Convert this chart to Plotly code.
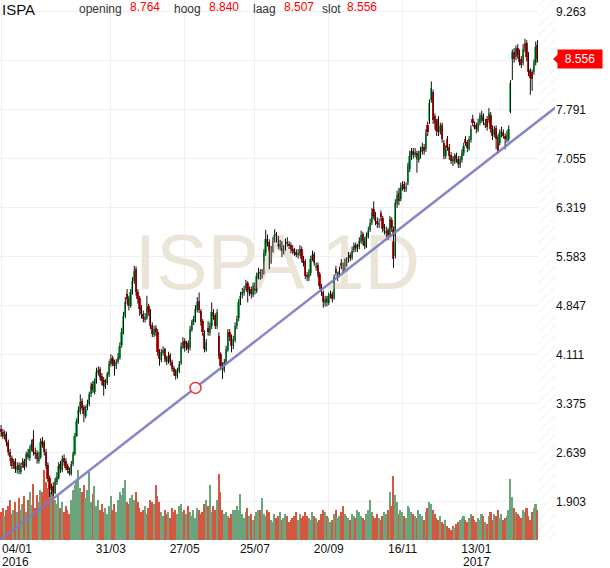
import plotly.graph_objects as go

# daily candles, 04/01/2016 .. early March 2017 (one value per trading day)
opens = [
    3.00, 2.96, 2.88, 2.93, 2.80, 2.66, 2.57, 2.44, 2.52, 2.38,
    2.46, 2.36, 2.46, 2.52, 2.44, 2.64, 2.56, 2.70, 2.85, 2.66,
    2.64, 2.52, 2.58, 2.82, 2.80, 2.66, 2.46, 2.27, 2.08, 2.15,
    2.04, 2.20, 2.27, 2.47, 2.38, 2.57, 2.52, 2.44, 2.36, 2.33,
    2.47, 2.62, 2.90, 3.12, 3.26, 3.42, 3.33, 3.20, 3.31, 3.37,
    3.52, 3.67, 3.56, 3.71, 3.84, 3.90, 3.79, 3.74, 3.63, 3.69,
    3.81, 3.97, 4.07, 3.99, 3.94, 4.01, 4.07, 4.26, 4.45, 4.70,
    5.02, 4.96, 4.85, 5.05, 5.22, 5.40, 5.06, 4.96, 4.82, 4.73,
    4.64, 4.67, 4.84, 4.76, 4.56, 4.41, 4.52, 4.46, 4.17, 4.03,
    4.14, 4.20, 4.06, 4.01, 4.11, 4.01, 3.91, 3.87, 3.79, 3.87,
    3.99, 4.24, 4.32, 4.21, 4.29, 4.21, 4.49, 4.61, 4.64, 4.79,
    4.92, 4.77, 4.62, 4.44, 4.19, 4.52, 4.44, 4.54, 4.76, 4.71,
    4.54, 4.40, 4.12, 3.97, 3.89, 4.01, 4.19, 4.46, 4.39, 4.24,
    4.34, 4.54, 4.66, 4.89, 5.01, 5.04, 5.11, 5.19, 5.04, 5.10,
    5.01, 5.16, 5.07, 5.29, 5.36, 5.29, 5.36, 5.64, 5.86, 5.81,
    5.51, 5.69, 5.83, 5.93, 5.86, 5.74, 5.79, 5.67, 5.71, 5.81,
    5.77, 5.76, 5.71, 5.67, 5.66, 5.61, 5.64, 5.71, 5.56, 5.52,
    5.31, 5.27, 5.34, 5.56, 5.63, 5.42, 5.46, 5.33, 5.14, 5.06,
    4.89, 4.96, 4.89, 5.00, 5.03, 4.96, 5.40, 5.26, 5.31, 5.50,
    5.46, 5.41, 5.49, 5.53, 5.61, 5.57, 5.69, 5.76, 5.71, 5.73,
    5.81, 5.93, 5.83, 5.74, 5.89, 5.99, 6.09, 6.30, 6.21, 6.13,
    6.07, 6.25, 6.17, 5.98, 5.94, 5.99, 5.91, 6.14, 6.00, 5.60,
    6.38, 6.55, 6.45, 6.62, 6.68, 6.60, 6.70, 6.90, 7.08, 7.18,
    7.12, 7.15, 7.04, 7.10, 7.16, 7.24, 7.20, 7.57, 7.62, 7.94,
    8.06, 7.70, 7.62, 7.66, 7.46, 7.57, 7.30, 7.10, 7.35, 7.24,
    7.12, 7.06, 7.01, 7.11, 7.06, 6.97, 7.04, 7.14, 7.36, 7.31,
    7.21, 7.34, 7.66, 7.57, 7.56, 7.49, 7.59, 7.64, 7.69, 7.56,
    7.66, 7.64, 7.72, 7.53, 7.42, 7.52, 7.38, 7.30, 7.42, 7.46,
    7.40, 7.34, 7.36, 7.76, 8.55, 8.66, 8.58, 8.72, 8.66, 8.56,
    8.50, 8.70, 8.80, 8.62, 8.39, 8.36, 8.36, 8.50, 8.764,
]
highs = [
    3.06, 3.00, 2.98, 2.96, 2.84, 2.70, 2.60, 2.55, 2.56, 2.50,
    2.50, 2.49, 2.56, 2.55, 2.66, 2.70, 2.75, 2.84, 2.98, 2.72,
    2.68, 2.66, 2.86, 2.88, 2.83, 2.70, 2.50, 2.30, 2.18, 2.20,
    2.26, 2.35, 2.50, 2.52, 2.60, 2.62, 2.56, 2.48, 2.42, 2.52,
    2.66, 2.94, 3.16, 3.34, 3.52, 3.46, 3.36, 3.35, 3.44, 3.56,
    3.70, 3.72, 3.76, 3.92, 3.94, 3.93, 3.84, 3.78, 3.75, 3.86,
    4.02, 4.12, 4.10, 4.04, 4.05, 4.14, 4.30, 4.52, 4.76, 4.98,
    5.10, 5.00, 5.10, 5.28, 5.45, 5.44, 5.10, 5.00, 4.86, 4.78,
    4.74, 5.00, 4.88, 4.80, 4.60, 4.55, 4.56, 4.50, 4.20, 4.20,
    4.24, 4.22, 4.10, 4.16, 4.14, 4.04, 3.95, 3.90, 3.92, 4.02,
    4.30, 4.38, 4.36, 4.32, 4.33, 4.55, 4.64, 4.70, 4.86, 4.98,
    5.05, 4.80, 4.65, 4.48, 4.35, 4.62, 4.60, 4.90, 4.80, 4.74,
    4.80, 4.45, 4.15, 4.00, 4.05, 4.25, 4.50, 4.50, 4.42, 4.40,
    4.60, 4.70, 4.95, 5.06, 5.12, 5.15, 5.24, 5.22, 5.14, 5.14,
    5.20, 5.20, 5.35, 5.42, 5.40, 5.40, 5.70, 5.99, 5.92, 5.85,
    5.75, 5.88, 6.00, 5.96, 5.90, 5.84, 5.82, 5.76, 5.86, 5.88,
    5.82, 5.80, 5.76, 5.72, 5.70, 5.70, 5.76, 5.74, 5.60, 5.55,
    5.36, 5.40, 5.60, 5.68, 5.66, 5.50, 5.50, 5.36, 5.18, 5.08,
    5.00, 5.00, 5.05, 5.08, 5.06, 5.32, 5.45, 5.36, 5.44, 5.55,
    5.50, 5.56, 5.58, 5.66, 5.65, 5.74, 5.80, 5.80, 5.78, 5.88,
    5.98, 5.96, 5.88, 5.95, 6.04, 6.16, 6.32, 6.42, 6.26, 6.18,
    6.16, 6.28, 6.20, 6.08, 6.04, 6.02, 6.20, 6.18, 6.04, 6.45,
    6.58, 6.62, 6.70, 6.72, 6.72, 6.70, 7.00, 7.18, 7.22, 7.22,
    7.22, 7.18, 7.18, 7.24, 7.30, 7.28, 7.50, 7.62, 7.95, 8.22,
    8.10, 7.74, 7.66, 7.70, 7.60, 7.60, 7.34, 7.26, 7.40, 7.28,
    7.16, 7.10, 7.14, 7.15, 7.10, 7.10, 7.20, 7.30, 7.40, 7.34,
    7.40, 7.56, 7.72, 7.62, 7.60, 7.66, 7.75, 7.78, 7.74, 7.66,
    7.70, 7.82, 7.76, 7.56, 7.55, 7.56, 7.42, 7.50, 7.54, 7.50,
    7.44, 7.48, 7.56, 8.24, 8.70, 8.72, 8.76, 8.78, 8.70, 8.60,
    8.78, 8.86, 8.84, 8.66, 8.42, 8.40, 8.55, 8.82, 8.840,
]
lows = [
    2.88, 2.85, 2.84, 2.74, 2.60, 2.52, 2.40, 2.40, 2.34, 2.33,
    2.32, 2.32, 2.42, 2.38, 2.42, 2.54, 2.52, 2.66, 2.60, 2.55,
    2.48, 2.48, 2.55, 2.72, 2.60, 2.40, 2.20, 1.98, 2.02, 1.99,
    2.02, 2.16, 2.24, 2.34, 2.35, 2.45, 2.38, 2.33, 2.30, 2.30,
    2.44, 2.60, 2.88, 3.08, 3.22, 3.28, 3.10, 3.16, 3.28, 3.34,
    3.48, 3.54, 3.52, 3.68, 3.80, 3.74, 3.66, 3.50, 3.60, 3.66,
    3.78, 3.94, 3.94, 3.80, 3.90, 3.98, 4.04, 4.22, 4.42, 4.66,
    4.88, 4.78, 4.82, 5.02, 5.18, 5.00, 4.88, 4.70, 4.66, 4.60,
    4.60, 4.64, 4.70, 4.50, 4.38, 4.38, 4.40, 4.10, 3.95, 4.00,
    4.10, 4.00, 3.96, 3.98, 3.95, 3.86, 3.80, 3.74, 3.76, 3.84,
    3.96, 4.20, 4.16, 4.18, 4.14, 4.18, 4.46, 4.56, 4.60, 4.75,
    4.74, 4.55, 4.40, 4.15, 4.16, 4.40, 4.40, 4.50, 4.64, 4.50,
    4.50, 4.05, 3.88, 3.75, 3.85, 3.98, 4.16, 4.32, 4.15, 4.20,
    4.30, 4.50, 4.62, 4.86, 4.96, 5.00, 5.08, 4.90, 5.00, 4.96,
    4.98, 5.02, 5.04, 5.25, 5.24, 5.26, 5.32, 5.60, 5.74, 5.40,
    5.48, 5.65, 5.80, 5.80, 5.70, 5.68, 5.58, 5.62, 5.68, 5.74,
    5.70, 5.64, 5.62, 5.60, 5.58, 5.56, 5.60, 5.50, 5.44, 5.25,
    5.22, 5.22, 5.30, 5.52, 5.45, 5.38, 5.28, 5.10, 5.00, 4.82,
    4.84, 4.84, 4.86, 4.96, 4.90, 4.94, 5.30, 5.22, 5.28, 5.40,
    5.35, 5.38, 5.44, 5.50, 5.52, 5.54, 5.65, 5.66, 5.66, 5.70,
    5.78, 5.76, 5.70, 5.72, 5.86, 5.96, 6.06, 6.15, 6.06, 6.02,
    6.02, 6.12, 5.95, 5.92, 5.88, 5.84, 5.88, 5.96, 5.42, 5.56,
    6.32, 6.36, 6.42, 6.58, 6.56, 6.56, 6.66, 6.86, 7.04, 7.06,
    7.08, 6.85, 7.00, 7.06, 7.12, 7.12, 7.16, 7.40, 7.58, 7.90,
    7.58, 7.50, 7.40, 7.40, 7.42, 7.30, 7.05, 7.06, 7.18, 7.04,
    6.98, 6.95, 6.98, 7.00, 6.92, 6.92, 7.00, 7.10, 7.25, 7.16,
    7.18, 7.30, 7.55, 7.50, 7.44, 7.46, 7.56, 7.60, 7.56, 7.52,
    7.48, 7.60, 7.45, 7.34, 7.38, 7.20, 7.14, 7.26, 7.38, 7.36,
    7.20, 7.30, 7.32, 7.74, 8.24, 8.50, 8.54, 8.56, 8.46, 8.42,
    8.46, 8.66, 8.52, 8.30, 8.02, 8.08, 8.32, 8.46, 8.507,
]
closes = [
    2.95, 2.90, 2.92, 2.80, 2.65, 2.58, 2.45, 2.50, 2.40, 2.45,
    2.38, 2.45, 2.50, 2.42, 2.62, 2.58, 2.70, 2.78, 2.65, 2.62,
    2.55, 2.60, 2.80, 2.78, 2.65, 2.45, 2.25, 2.10, 2.12, 2.05,
    2.22, 2.28, 2.45, 2.40, 2.55, 2.50, 2.42, 2.38, 2.35, 2.48,
    2.62, 2.90, 3.12, 3.28, 3.40, 3.32, 3.22, 3.30, 3.38, 3.52,
    3.65, 3.58, 3.72, 3.85, 3.88, 3.78, 3.72, 3.65, 3.70, 3.82,
    3.98, 4.05, 3.98, 3.95, 4.00, 4.08, 4.25, 4.45, 4.70, 4.90,
    4.95, 4.85, 5.05, 5.22, 5.38, 5.05, 4.95, 4.80, 4.72, 4.65,
    4.68, 4.82, 4.75, 4.55, 4.42, 4.50, 4.45, 4.15, 4.05, 4.15,
    4.18, 4.05, 4.02, 4.10, 4.00, 3.90, 3.85, 3.80, 3.88, 3.98,
    4.25, 4.30, 4.22, 4.28, 4.20, 4.50, 4.60, 4.65, 4.80, 4.90,
    4.78, 4.60, 4.45, 4.20, 4.30, 4.45, 4.55, 4.75, 4.70, 4.55,
    4.75, 4.10, 3.95, 3.90, 4.00, 4.20, 4.45, 4.38, 4.25, 4.35,
    4.55, 4.65, 4.90, 5.00, 5.05, 5.10, 5.18, 5.05, 5.08, 5.02,
    5.15, 5.08, 5.30, 5.35, 5.30, 5.35, 5.65, 5.85, 5.80, 5.52,
    5.70, 5.82, 5.92, 5.85, 5.75, 5.78, 5.68, 5.70, 5.80, 5.78,
    5.75, 5.70, 5.68, 5.65, 5.62, 5.65, 5.70, 5.55, 5.50, 5.30,
    5.28, 5.35, 5.55, 5.62, 5.50, 5.45, 5.32, 5.15, 5.05, 4.90,
    4.95, 4.90, 5.00, 5.02, 4.95, 5.28, 5.35, 5.30, 5.38, 5.45,
    5.40, 5.50, 5.52, 5.60, 5.58, 5.68, 5.75, 5.72, 5.72, 5.82,
    5.92, 5.82, 5.75, 5.90, 5.98, 6.10, 6.25, 6.20, 6.12, 6.08,
    6.10, 6.18, 6.00, 6.02, 5.98, 5.90, 6.15, 6.02, 5.55, 6.40,
    6.52, 6.42, 6.62, 6.66, 6.60, 6.64, 6.95, 7.10, 7.18, 7.12,
    7.16, 7.05, 7.12, 7.18, 7.24, 7.18, 7.45, 7.46, 7.90, 8.12,
    7.64, 7.60, 7.48, 7.46, 7.55, 7.36, 7.10, 7.20, 7.22, 7.10,
    7.02, 7.02, 7.10, 7.05, 6.98, 7.05, 7.15, 7.25, 7.30, 7.22,
    7.35, 7.50, 7.60, 7.55, 7.50, 7.60, 7.70, 7.72, 7.62, 7.60,
    7.54, 7.74, 7.50, 7.40, 7.50, 7.35, 7.18, 7.45, 7.48, 7.40,
    7.35, 7.42, 7.50, 8.20, 8.66, 8.55, 8.70, 8.62, 8.51, 8.47,
    8.70, 8.80, 8.58, 8.36, 8.27, 8.25, 8.50, 8.74, 8.556,
]
volumes = [
    28, 32, 24, 30, 34, 40, 26, 30, 38, 28,
    42, 30, 36, 44, 28, 40, 48, 35, 56, 32,
    45, 38, 50, 48, 70, 58, 52, 62, 48, 52,
    40, 36, 44, 32, 38, 28, 34, 30, 26, 40,
    50, 55, 58, 70, 52, 48, 55, 42, 50, 68,
    38, 46, 54, 34, 40, 30, 36, 28, 32, 26,
    34, 44, 30, 36, 28, 40, 48, 45, 52, 60,
    38, 36, 42, 45, 40, 48, 38, 32, 28, 30,
    34, 26, 32, 40, 38, 36, 55, 44, 38, 28,
    24, 30, 26, 28, 22, 32, 28, 30, 26, 34,
    36, 28, 30, 26, 34, 28, 24, 30, 22, 32,
    30, 26, 28, 36, 40, 34, 55, 28, 34, 30,
    40, 66, 48, 30, 26, 28, 24, 22, 26, 30,
    30, 34, 30, 46, 26, 22, 28, 32, 24, 26,
    20, 24, 28, 30, 30, 42, 26, 24, 30, 28,
    20, 18, 26, 22, 24, 28, 20, 22, 26, 24,
    18, 20, 22, 24, 28, 20, 26, 22, 24, 28,
    24, 22, 20, 28, 24, 22, 18, 20, 26, 30,
    28, 24, 22, 18, 20, 26, 30, 22, 24, 28,
    34, 26, 24, 22, 20, 26, 24, 22, 30, 28,
    24, 22, 20, 26, 30, 40, 28, 24, 22, 26,
    22, 20, 24, 28, 26, 30, 48, 34, 64, 45,
    38, 26, 30, 28, 24, 22, 34, 32, 28, 26,
    24, 22, 30, 26, 24, 20, 28, 32, 38, 36,
    30, 26, 22, 20, 24, 18, 16, 20, 14, 12,
    10, 14, 12, 16, 18, 20, 22, 24, 20, 18,
    22, 26, 24, 20, 18, 22, 20, 26, 24, 18,
    16, 24, 28, 20, 26, 24, 30, 22, 26, 20,
    22, 24, 30, 61, 43, 32, 28, 26, 24, 22,
    30, 28, 32, 24, 20, 28, 32, 36, 30,
]

tick_pos = [0, 61, 102, 141, 182, 223, 264]
tick_text = ["", "31/03", "27/05", "25/07", "20/09", "16/11", "13/01"]
price_ticks = [1.903, 2.639, 3.375, 4.111, 4.847, 5.583, 6.319, 7.055, 7.791, 8.527, 9.263]
price_labels = ["1.903", "2.639", "3.375", "4.111", "4.847", "5.583", "6.319", "7.055", "7.791", "", "9.263"]

# drawn trend line and its marker
trend_x = [-0.6, 308.3]
trend_y = [1.332, 7.836]
mark_x = [108]
mark_y = [3.616]

last = {"opening": "8.764", "hoog": "8.840", "laag": "8.507", "slot": "8.556"}

x_range = [-0.6, 307.7]
y_range = [1.332, 9.443]
vol_top = 540

FONT = "Liberation Sans, Arial, sans-serif"
UP, DOWN = "#2bd660", "#ff0a0a"
VUP, VDOWN = "#6aa57e", "#d5573f"

idx = list(range(len(closes)))
up = [c >= o for o, c in zip(opens, closes)]

fig = go.Figure()

# volume (bottom layer)
fig.add_trace(go.Bar(
    x=idx, y=volumes, width=0.85, yaxis="y",
    marker=dict(color=[VUP if u else VDOWN for u in up], line_width=0),
    hoverinfo="skip",
))

# watermark
fig.add_trace(go.Scatter(
    x=[sum(x_range) / 2], y=[sum(y_range) / 2], yaxis="y2",
    mode="text", text=["ISPA 1D"],
    textfont=dict(size=77, color="#ebe5d8", family=FONT),
    hoverinfo="skip",
))

# hatched area after the last candle
hatch_start = len(closes) - 0.4
fig.add_trace(go.Bar(
    x=[(hatch_start + x_range[1]) / 2], y=[y_range[1] - y_range[0]], base=[y_range[0]],
    width=x_range[1] - hatch_start, yaxis="y2",
    marker=dict(color="white", line_width=0,
                pattern=dict(shape="/", fgcolor="#e4e4e4", bgcolor="white", size=7, solidity=0.15)),
    hoverinfo="skip",
))

# wicks
wx, wy = [], []
for i, h, l in zip(idx, highs, lows):
    wx += [i, i, None]
    wy += [l, h, None]
fig.add_trace(go.Scatter(x=wx, y=wy, yaxis="y2", mode="lines",
                         line=dict(color="#111", width=1), hoverinfo="skip"))

# bodies
fig.add_trace(go.Bar(
    x=idx,
    y=[max(abs(c - o), 0.015) for o, c in zip(opens, closes)],
    base=[min(o, c) for o, c in zip(opens, closes)],
    width=1.0, yaxis="y2",
    marker=dict(color=[UP if u else DOWN for u in up], line_width=0),
    hoverinfo="skip",
))

# trend line + marker
fig.add_trace(go.Scatter(x=trend_x, y=trend_y, yaxis="y2", mode="lines",
                         line=dict(color="#7b7bc2", width=2.5), opacity=0.9, hoverinfo="skip"))
fig.add_trace(go.Scatter(x=mark_x, y=mark_y, yaxis="y2", mode="markers",
                         marker=dict(size=11, color="rgba(255,255,255,0.85)",
                                     line=dict(color="#ee3333", width=1.5)),
                         hoverinfo="skip"))

W_PLOT = 555
ann = [
    dict(x=0, y=1, xref="paper", yref="paper", xanchor="left", yanchor="top", yshift=1,
         text="ISPA", showarrow=False, font=dict(size=15, color="#111", family=FONT)),
    dict(x=0, y=0, xref="paper", yref="paper", xanchor="left", yanchor="top", yshift=-1,
         height=12, text="04/01", showarrow=False, font=dict(size=12, color="#111", family=FONT)),
    dict(x=0, y=0, xref="paper", yref="paper", xanchor="left", yanchor="top", yshift=-14,
         height=12, text="2016", showarrow=False, font=dict(size=12, color="#111", family=FONT)),
    dict(x=264, y=0, xref="x", yref="paper", xanchor="center", yanchor="top", yshift=-14,
         height=12, text="2017", showarrow=False, font=dict(size=12, color="#111", family=FONT)),
    dict(x=557 / W_PLOT, y=float(last["slot"]), xref="paper", yref="y2", xanchor="left",
         text=last["slot"], showarrow=False, width=42, height=16, bgcolor="#ff0000",
         font=dict(size=12, color="white", family=FONT)),
]
label_px = {"opening": (77, 128), "hoog": (172, 207), "laag": (251, 282), "slot": (320, 345)}
for name, (lx, vx) in label_px.items():
    ann.append(dict(x=lx / W_PLOT, y=1, xref="paper", yref="paper", xanchor="left", yanchor="top",
                    yshift=0, text=name, showarrow=False,
                    font=dict(size=12, color="#333", family=FONT)))
    ann.append(dict(x=vx / W_PLOT, y=1, xref="paper", yref="paper", xanchor="left", yanchor="top",
                    yshift=2, text=last[name], showarrow=False,
                    font=dict(size=12, color="#ff0000", family=FONT)))

tip = float(last["slot"])
fig.add_shape(type="path", xref="paper", yref="y2",
              path=f"M {553 / W_PLOT},{tip} L {558 / W_PLOT},{tip + 0.07} L {558 / W_PLOT},{tip - 0.07} Z",
              fillcolor="#ff0000", line_width=0)

fig.update_layout(
    width=610, height=568,
    margin=dict(l=0, r=55, t=0, b=28),
    paper_bgcolor="white", plot_bgcolor="white",
    showlegend=False, barmode="overlay", bargap=0,
    font=dict(family=FONT, size=12, color="#111"),
    annotations=ann,
    xaxis=dict(range=x_range, tickvals=tick_pos, ticktext=tick_text, showgrid=True,
               gridcolor="#f0f0f0", zeroline=False, showline=False, ticks="",
               tickfont=dict(size=12, color="#111", family=FONT)),
    yaxis=dict(range=[0, vol_top], visible=False, showgrid=False, zeroline=False),
    yaxis2=dict(range=y_range, overlaying="y", side="right", tickvals=price_ticks,
                ticktext=price_labels, showgrid=True, gridcolor="#f0f0f0", zeroline=False,
                showline=False, ticks="", tickfont=dict(size=12, color="#111", family=FONT)),
)

# page body has an 8px default margin; drop it so the chart sits at the window's corner
fig.write_html("out.html", config={"displayModeBar": False},
               post_script="document.body.style.margin='0';")
